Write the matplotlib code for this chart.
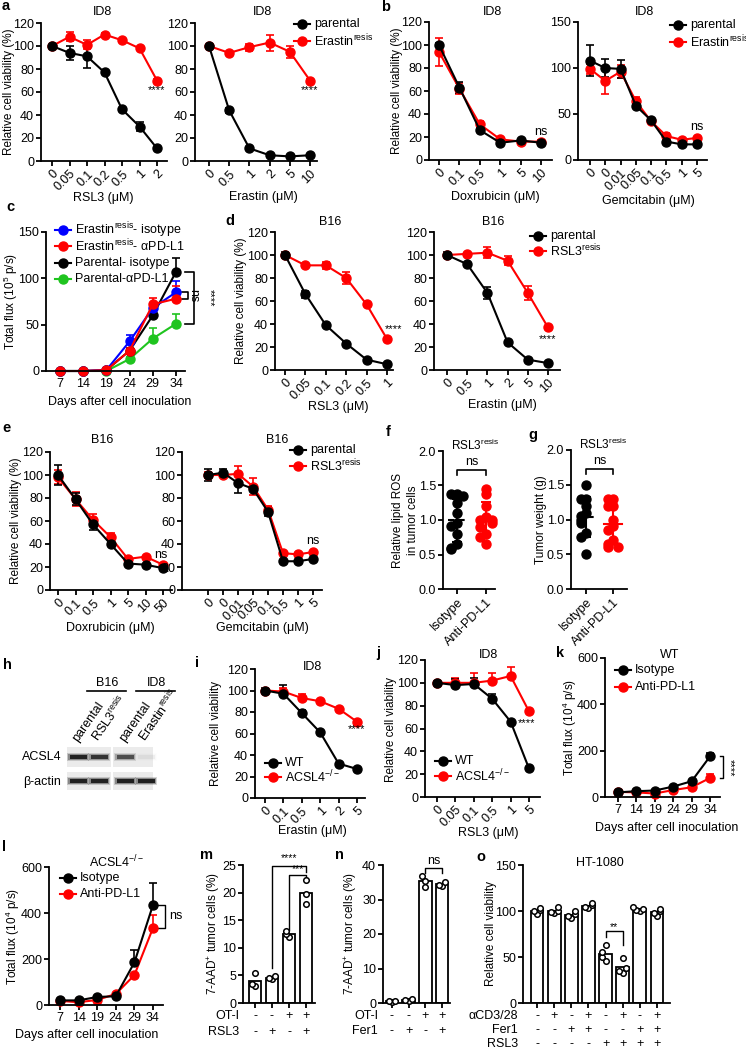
"""
Multi-panel ferroptosis / anti-PD-L1 figure (Prism style).
"""

import numpy as np
import matplotlib
matplotlib.use("Agg")
import matplotlib.pyplot as plt
from matplotlib.lines import Line2D
from matplotlib.patches import Rectangle

plt.rcParams["font.family"] = ["Liberation Sans", "DejaVu Sans"]
plt.rcParams["mathtext.fontset"] = "custom"
plt.rcParams["mathtext.rm"] = "Liberation Sans"
plt.rcParams["mathtext.it"] = "Liberation Sans:italic"
plt.rcParams["mathtext.default"] = "regular"
plt.rcParams["font.size"] = 9

W, H = 746, 1050

BLACK = "#000000"
RED = "#ff0000"
BLUE = "#0000ff"
GREEN = "#1fc41f"

ERA_RES = "Erastin$^{resis}$"
RSL_RES = "RSL3$^{resis}$"
KO = "ACSL4$^{-/-}$"

# ----------------------------------------------------
# Data
# ----------------------------------------------------

a_rsl3_doses = ["0", "0.05", "0.1", "0.2", "0.5", "1", "2"]
a_rsl3_par = [100, 94, 91, 77, 45, 30, 11]
a_rsl3_par_err = [0, 6, 10, 1, 1, 4, 1]
a_rsl3_res = [100, 108, 101, 110, 105, 98, 70]
a_rsl3_res_err = [0, 4, 4, 1, 1, 1, 1]

a_era_doses = ["0", "0.5", "1", "2", "5", "10"]
a_era_par = [100, 44, 11, 5, 4, 5]
a_era_par_err = [0, 2, 1, 1, 1, 1]
a_era_res = [100, 94, 99, 103, 95, 70]
a_era_res_err = [0, 1, 3, 7, 5, 1]

b_dox_doses = ["0", "0.1", "0.5", "1", "5", "10"]
b_dox_par = [100, 63, 26, 15, 17, 15]
b_dox_par_err = [2, 5, 2, 2, 1, 2]
b_dox_res = [94, 62, 31, 18, 16, 16]
b_dox_res_err = [12, 5, 3, 1, 1, 1]

b_gem_doses = ["0", "0", "0.01", "0.05", "0.1", "0.5", "1", "5"]
b_gem_par = [108, 100, 99, 59, 43, 20, 17, 17]
b_gem_par_err = [17, 10, 10, 2, 1, 2, 1, 1]
b_gem_res = [99, 86, 96, 64, 42, 26, 22, 24]
b_gem_res_err = [5, 14, 7, 4, 2, 3, 1, 1]

days = ["7", "14", "19", "24", "29", "34"]
c_res_iso = [0, 0, 1, 32, 68, 85]
c_res_iso_err = [0, 0, 0, 7, 5, 12]
c_res_pdl1 = [0, 0, 1, 22, 72, 78]
c_res_pdl1_err = [0, 0, 0, 3, 7, 14]
c_par_iso = [0, 0, 1, 22, 60, 107]
c_par_iso_err = [0, 0, 0, 3, 3, 15]
c_par_pdl1 = [0, 0, 0, 13, 35, 51]
c_par_pdl1_err = [0, 0, 0, 2, 11, 11]

d_rsl3_doses = ["0", "0.05", "0.1", "0.2", "0.5", "1"]
d_rsl3_par = [100, 66, 39, 23, 9, 5]
d_rsl3_par_err = [3, 3, 1, 1, 1, 1]
d_rsl3_res = [100, 91, 91, 80, 57, 27]
d_rsl3_res_err = [1, 1, 3, 5, 1, 1]

d_era_doses = ["0", "0.5", "1", "2", "5", "10"]
d_era_par = [100, 92, 67, 24, 9, 6]
d_era_par_err = [3, 1, 5, 1, 1, 1]
d_era_res = [100, 101, 102, 95, 67, 37]
d_era_res_err = [1, 1, 5, 4, 6, 1]

e_dox_doses = ["0", "0.1", "0.5", "1", "5", "10", "50"]
e_dox_par = [100, 79, 57, 40, 23, 22, 19]
e_dox_par_err = [9, 5, 5, 2, 2, 1, 2]
e_dox_res = [98, 79, 61, 46, 27, 29, 22]
e_dox_res_err = [6, 6, 5, 4, 1, 1, 1]

e_gem_doses = ["0", "0", "0.01", "0.05", "0.1", "0.5", "1", "5"]
e_gem_par = [100, 102, 93, 88, 68, 25, 25, 27]
e_gem_par_err = [5, 3, 9, 2, 4, 1, 1, 1]
e_gem_res = [100, 100, 101, 90, 70, 32, 31, 33]
e_gem_res_err = [3, 2, 7, 7, 3, 1, 1, 1]

fg_groups = ["Isotype", "Anti-PD-L1"]
f_iso = [1.38, 1.38, 1.35, 1.25, 1.1, 0.95, 0.92, 0.8, 0.65, 0.6, 0.58]
f_pdl1 = [1.45, 1.38, 1.2, 1.05, 1.0, 1.0, 0.95, 0.9, 0.8, 0.75, 0.65]
g_iso = [1.5, 1.3, 1.3, 1.2, 1.1, 1.05, 1.0, 0.95, 0.8, 0.75, 0.5]
g_pdl1 = [1.3, 1.3, 1.2, 1.2, 1.0, 0.9, 0.85, 0.7, 0.65, 0.6, 0.6]

h_lanes = ["parental", RSL_RES, "parental", ERA_RES]
h_acsl4 = [0.95, 0.82, 0.65, 0.05]
h_actin = [0.97, 0.95, 0.97, 0.97]

i_doses = ["0", "0.1", "0.5", "1", "2", "5"]
i_wt = [100, 97, 79, 61, 32, 27]
i_wt_err = [2, 8, 3, 1, 1, 1]
i_ko = [100, 99, 93, 90, 83, 71]
i_ko_err = [1, 3, 4, 1, 1, 1]

j_doses = ["0", "0.05", "0.1", "0.5", "1", "5"]
j_wt = [100, 98, 99, 86, 66, 25]
j_wt_err = [2, 5, 5, 4, 1, 1]
j_ko = [100, 100, 100, 102, 106, 75]
j_ko_err = [1, 4, 9, 7, 8, 1]

k_iso = [20, 25, 28, 45, 68, 175]
k_iso_err = [0, 0, 0, 0, 0, 15]
k_pdl1 = [22, 20, 15, 30, 42, 82]
k_pdl1_err = [0, 0, 0, 0, 0, 18]

l_iso = [20, 20, 35, 38, 185, 435]
l_iso_err = [0, 0, 0, 0, 55, 95]
l_pdl1 = [18, 12, 22, 48, 130, 335]
l_pdl1_err = [0, 0, 0, 0, 0, 55]

m_pts = [[3.0, 3.5, 5.5], [4.3, 4.6, 4.9], [12.0, 12.5, 13.0], [18.0, 19.8, 22.2]]
m_oti = ["-", "-", "+", "+"]
m_rsl3 = ["-", "+", "-", "+"]

n_pts = [[0.3, 0.5, 0.7], [0.6, 0.8, 1.1], [33.5, 35.5, 36.8], [34.0, 34.3, 35.0]]
n_oti = ["-", "-", "+", "+"]
n_fer1 = ["-", "+", "-", "+"]

o_pts = [[97, 100, 101, 103], [98, 99, 100, 104], [92, 95, 97, 100],
         [103, 104, 106, 109], [46, 50, 55, 63], [33, 35, 38, 49],
         [100, 101, 102, 104], [95, 98, 100, 102]]
o_cd3 = ["-", "+", "-", "+", "-", "+", "-", "+"]
o_fer1 = ["-", "-", "+", "+", "-", "-", "+", "+"]
o_rsl3 = ["-", "-", "-", "-", "+", "+", "+", "+"]

# ----------------------------------------------------
# Helpers
# ----------------------------------------------------

fig = plt.figure(figsize=(W / 100, H / 100), dpi=100)

YLS = 8.5


def px_axes(x0, x1, ytop, ybot):
    ax = fig.add_axes([x0 / W, 1 - ybot / H, (x1 - x0) / W, (ybot - ytop) / H])
    ax.spines["top"].set_visible(False)
    ax.spines["right"].set_visible(False)
    ax.spines["left"].set_linewidth(1.3)
    ax.spines["bottom"].set_linewidth(1.3)
    ax.tick_params(width=1.3, length=3.5, labelsize=9, pad=1.5)
    ax.patch.set_alpha(0)
    return ax


def ftext(x, y, s, **kw):
    kw.setdefault("ha", "center")
    kw.setdefault("va", "center")
    fig.text(x / W, 1 - y / H, s, **kw)


def ylab(x, y, s):
    ftext(x, y, s, rotation=90, fontsize=YLS)


def letter(x, y, s):
    ftext(x, y, s, fontsize=10.5, fontweight="bold", ha="left")


def cat_xlim(ax, box, p0, p1, n):
    s = (p1 - p0) / (n - 1)
    ax.set_xlim(-(p0 - box[0]) / s, n - 1 + (box[1] - p1) / s)


def legend_px(xm, ys, labels, colors):
    for y, lab, c in zip(ys, labels, colors):
        yy = 1 - y / H
        fig.add_artist(Line2D([(xm - 8) / W, (xm + 8) / W], [yy, yy], color=c, lw=1.5))
        fig.add_artist(Line2D([xm / W], [yy], color=c, marker="o", ms=6.5))
        ftext(xm + 12, y, lab, ha="left")


def noclip(eb):
    line, caps, bars = eb.lines
    line.set_clip_on(False)
    for a in list(caps) + list(bars):
        a.set_clip_on(False)


def line_panel(box, pts, labels, series, ylim, yticks, rot=True, both=True):
    ax = px_axes(*box)
    n = len(labels)
    x = np.arange(n)
    for mean, err, color in series:
        err = np.asarray(err, dtype=float)
        lo = err if both else np.zeros(n)
        eb = ax.errorbar(x, mean, yerr=[lo, err], color=color, lw=1.5,
                         marker="o", ms=6.5, capsize=3, capthick=1.2,
                         elinewidth=1.2)
        noclip(eb)
    ax.set_ylim(*ylim)
    ax.set_yticks(yticks)
    ax.set_xticks(x)
    if rot:
        ax.set_xticklabels(labels, rotation=45, ha="right",
                           rotation_mode="anchor")
    else:
        ax.set_xticklabels(labels)
    cat_xlim(ax, box, pts[0], pts[1], n)
    return ax


def swarm(vals, step, tol):
    offs, placed = [], []
    order = [0, -1, 1, -2, 2, -3, 3]
    for v in vals:
        k = sum(1 for p in placed if abs(p - v) < tol)
        offs.append(order[min(k, 6)] * step)
        placed.append(v)
    return np.array(offs)


def scatter_panel(box, pts, groups, colors):
    ax = px_axes(*box)
    for i, (vals, c) in enumerate(zip(groups, colors)):
        vals = np.asarray(vals)
        offs = swarm(vals, 0.2, 0.07)
        ax.scatter(i + offs, vals, s=42, color=c, zorder=3, clip_on=False)
        m, sd = vals.mean(), vals.std(ddof=1)
        ax.plot([i - 0.32, i + 0.32], [m, m], color=c, lw=1.5, zorder=4,
                ls=(0, (3, 2)) if c == BLACK else "-")
        eb = ax.errorbar(i, m, yerr=sd, color=c, capsize=3.5, capthick=1.5,
                         elinewidth=1.5, zorder=4)
        noclip(eb)
    ax.set_ylim(0, 2)
    ax.set_yticks([0, 0.5, 1.0, 1.5, 2.0])
    ax.set_yticklabels(["0.0", "0.5", "1.0", "1.5", "2.0"])
    ax.set_xticks([0, 1])
    ax.set_xticklabels(fg_groups, rotation=45, ha="right",
                       rotation_mode="anchor")
    cat_xlim(ax, box, pts[0], pts[1], 2)
    ax.plot([0, 0, 1, 1], [1.65, 1.72, 1.72, 1.65], color=BLACK, lw=1.2,
            clip_on=False)
    ax.text(0.5, 1.76, "ns", ha="center", va="bottom", fontsize=9)
    return ax


def bar_panel(box, pts, groups, ylim, yticks, rows, row_ys, label_x):
    ax = px_axes(*box)
    n = len(groups)
    x = np.arange(n)
    means = [np.mean(g) for g in groups]
    ax.bar(x, means, width=0.75, facecolor="white", edgecolor=BLACK,
           lw=1.3, zorder=2)
    span = ylim[1] - ylim[0]
    for i, g in enumerate(groups):
        offs = swarm(g, 0.2, span * 0.035)
        ax.scatter(i + offs, g, s=16, facecolor="white", edgecolor=BLACK,
                   lw=1.1, zorder=3, clip_on=False)
    ax.set_ylim(*ylim)
    ax.set_yticks(yticks)
    ax.set_xticks(x)
    ax.set_xticklabels([])
    cat_xlim(ax, box, pts[0], pts[1], n)
    hgt = box[3] - box[2]
    for (name, signs), y in zip(rows, row_ys):
        ya = (box[3] - y) / hgt
        for i, s in enumerate(signs):
            ax.text(i, ya, s, transform=ax.get_xaxis_transform(),
                    ha="center", va="center", fontsize=9)
        ftext(label_x, y, name, ha="right")
    return ax


def bracket(ax, x1, x2, top, yl, yr, txt, ty, fs=7.5):
    ax.plot([x1, x1, x2, x2], [yl, top, top, yr], color=BLACK, lw=1.0,
            clip_on=False)
    ax.text((x1 + x2) / 2, ty, txt, ha="center", va="center", fontsize=fs)


def side_bracket(ax, x1, x2, ytop, ybot, txt, tx, ty, lw=1.0, fs=8):
    ax.plot([x1, x2, x2, x1], [ytop, ytop, ybot, ybot], color=BLACK, lw=lw,
            clip_on=False)
    ax.text(tx, ty, txt, rotation=-90, ha="center", va="center", fontsize=fs)


VIAB = "Relative cell viability (%)"
UM = " (\u03bcM)"

# ----------------------------------------------------
# Panel a
# ----------------------------------------------------

letter(2, 6, "a")
box = (41, 167, 23, 161)
ax = line_panel(box, (52, 157), a_rsl3_doses,
                [(a_rsl3_res, a_rsl3_res_err, RED),
                 (a_rsl3_par, a_rsl3_par_err, BLACK)],
                (0, 120), range(0, 121, 20))
ax.text(6, 62, "****", ha="center", va="center", fontsize=8)
ftext(103, 12, "ID8")
ftext(103, 198, "RSL3" + UM)
ylab(9, 92, VIAB)

box = (195, 317, 23, 161)
ax = line_panel(box, (209, 310), a_era_doses,
                [(a_era_res, a_era_res_err, RED),
                 (a_era_par, a_era_par_err, BLACK)],
                (0, 120), range(0, 121, 20))
ax.text(5, 62, "****", ha="center", va="center", fontsize=8)
ftext(263, 12, "ID8")
ftext(263, 197, "Erastin" + UM)
legend_px(302, [24, 41], ["parental", ERA_RES], [BLACK, RED])

# ----------------------------------------------------
# Panel b
# ----------------------------------------------------

letter(381, 7, "b")
box = (429, 552, 22, 160)
ax = line_panel(box, (439, 541), b_dox_doses,
                [(b_dox_res, b_dox_res_err, RED),
                 (b_dox_par, b_dox_par_err, BLACK)],
                (0, 120), range(0, 121, 20))
ax.text(5, 24, "ns", ha="center", va="center", fontsize=9)
ftext(493, 12, "ID8")
ftext(495, 197, "Doxrubicin" + UM)
ylab(397, 91, VIAB)

box = (578, 707, 22, 160)
ax = line_panel(box, (590, 697), b_gem_doses,
                [(b_gem_res, b_gem_res_err, RED),
                 (b_gem_par, b_gem_par_err, BLACK)],
                (0, 150), range(0, 151, 50))
ax.text(7, 36, "ns", ha="center", va="center", fontsize=9)
ftext(645, 12, "ID8")
ftext(648, 201, "Gemcitabin" + UM)
legend_px(678, [25, 42], ["parental", ERA_RES], [BLACK, RED])

# ----------------------------------------------------
# Panel c
# ----------------------------------------------------

letter(6, 207, "c")
box = (46, 185, 232, 371)
ax = line_panel(box, (60, 176), days,
                [(c_par_pdl1, c_par_pdl1_err, GREEN),
                 (c_par_iso, c_par_iso_err, BLACK),
                 (c_res_iso, c_res_iso_err, BLUE),
                 (c_res_pdl1, c_res_pdl1_err, RED)],
                (0, 150), range(0, 151, 50), rot=False, both=False)
side_bracket(ax, 5.39, 5.78, 107, 51, "****", 6.45, 79, lw=1.2)
side_bracket(ax, 5.26, 5.52, 85, 78, "ns", 5.72, 81.5, lw=1.2, fs=9)
ftext(120, 402, "Days after cell inoculation")
ylab(11, 301, "Total flux (10$^{5}$ p/s)")
legend_px(63, [230, 246, 263, 279],
          [ERA_RES + "- isotype", ERA_RES + "- \u03b1PD-L1",
           "Parental- isotype", "Parental-\u03b1PD-L1"],
          [BLUE, RED, BLACK, GREEN])

# ----------------------------------------------------
# Panel d
# ----------------------------------------------------

letter(225, 221, "d")
box = (275, 393, 232, 370)
ax = line_panel(box, (285, 387), d_rsl3_doses,
                [(d_rsl3_res, d_rsl3_res_err, RED),
                 (d_rsl3_par, d_rsl3_par_err, BLACK)],
                (0, 120), range(0, 121, 20))
ax.text(5.3, 36, "****", ha="center", va="center", fontsize=8)
ftext(330, 222, "B16")
ftext(338, 407, "RSL3" + UM)
ylab(241, 301, VIAB)

box = (434, 560, 232, 370)
ax = line_panel(box, (447, 548), d_era_doses,
                [(d_era_res, d_era_res_err, RED),
                 (d_era_par, d_era_par_err, BLACK)],
                (0, 120), range(0, 121, 20))
ax.text(5, 27, "****", ha="center", va="center", fontsize=8)
ftext(493, 222, "B16")
ftext(502, 405, "Erastin" + UM)
legend_px(538, [236, 251], ["parental", RSL_RES], [BLACK, RED])

# ----------------------------------------------------
# Panel e
# ----------------------------------------------------

letter(2, 428, "e")
box = (50, 172, 452, 590)
ax = line_panel(box, (58, 163), e_dox_doses,
                [(e_dox_res, e_dox_res_err, RED),
                 (e_dox_par, e_dox_par_err, BLACK)],
                (0, 120), range(0, 121, 20))
ax.text(5.9, 30, "ns", ha="center", va="center", fontsize=9)
ftext(102, 440, "B16")
ftext(110, 628, "Doxrubicin" + UM)
ylab(16, 521, VIAB)

box = (182, 322, 452, 590)
ax = line_panel(box, (208, 313), e_gem_doses,
                [(e_gem_res, e_gem_res_err, RED),
                 (e_gem_par, e_gem_par_err, BLACK)],
                (0, 120), range(0, 121, 20))
ax.text(7, 43, "ns", ha="center", va="center", fontsize=9)
ftext(277, 440, "B16")
ftext(262, 628, "Gemcitabin" + UM)
legend_px(298, [450, 466], ["parental", RSL_RES], [BLACK, RED])

# ----------------------------------------------------
# Panels f and g
# ----------------------------------------------------

letter(386, 432, "f")
scatter_panel((443, 495, 451, 589), (457, 486), [f_iso, f_pdl1], [BLACK, RED])
ftext(475, 445, RSL_RES, fontsize=8.5)
ylab(398, 520, "Relative lipid ROS")
ylab(413, 520, "in tumor cells")

letter(528, 435, "g")
scatter_panel((571, 627, 450, 589), (586, 613), [g_iso, g_pdl1], [BLACK, RED])
ftext(603, 444, RSL_RES, fontsize=8.5)
ylab(541, 520, "Tumor weight (g)")

# ----------------------------------------------------
# Panel h (western blot)
# ----------------------------------------------------

letter(3, 665, "h")
hx = px_axes(60, 160, 742, 795)
hx.set_axis_off()
hx.set_xlim(60, 160)
hx.set_ylim(795, 742)
lane_x = [78, 99, 125, 146]
for (xa, xb) in [(67, 111), (113, 153)]:
    for (ya, yb) in [(747, 767), (772, 790)]:
        hx.add_patch(Rectangle((xa, ya), xb - xa, yb - ya, facecolor="#ebebeb",
                               edgecolor="none"))
for lx, ia, ib in zip(lane_x, h_acsl4, h_actin):
    for inten, yc in [(ia, 757), (ib, 781)]:
        for grow, alpha in [(2.5, 0.18), (1.2, 0.35), (0, 0.9)]:
            hx.add_patch(Rectangle((lx - 8.5 - grow, yc - 1.8 - grow),
                                   17 + 2 * grow, 3.6 + 2 * grow,
                                   facecolor="#111111", alpha=alpha * inten,
                                   edgecolor="none"))
ftext(42, 757, "ACSL4")
ftext(42, 782, "\u03b2-actin")
ftext(107, 683, "B16")
ftext(156, 683, "ID8")
fig.add_artist(Line2D([87 / W, 126 / W], [1 - 691 / H] * 2, color=BLACK, lw=1.2))
fig.add_artist(Line2D([136 / W, 175 / W], [1 - 691 / H] * 2, color=BLACK, lw=1.2))
for lx, lab in zip(lane_x, h_lanes):
    ftext(lx + 2, 744, lab, rotation=55, ha="left", va="bottom",
          rotation_mode="anchor")

# ----------------------------------------------------
# Panels i and j
# ----------------------------------------------------

letter(195, 663, "i")
box = (255, 365, 669, 798)
ax = line_panel(box, (265, 357), i_doses,
                [(i_ko, i_ko_err, RED), (i_wt, i_wt_err, BLACK)],
                (0, 120), range(0, 121, 20), both=False)
ax.text(5, 64, "****", ha="center", va="center", fontsize=8)
ftext(312, 667, "ID8")
ftext(312, 831, "Erastin" + UM)
ylab(216, 733, "Relative cell viability")
legend_px(273, [763, 777], ["WT", KO], [BLACK, RED])

letter(376, 653, "j")
box = (425, 540, 660, 797)
ax = line_panel(box, (437, 529), j_doses,
                [(j_ko, j_ko_err, RED), (j_wt, j_wt_err, BLACK)],
                (0, 120), range(0, 121, 20), both=False)
ax.text(4.85, 65, "****", ha="center", va="center", fontsize=8)
ftext(488, 655, "ID8")
ftext(488, 833, "RSL3" + UM)
ylab(391, 730, "Relative cell viability")
legend_px(443, [761, 776], ["WT", KO], [BLACK, RED])

# ----------------------------------------------------
# Panels k and l
# ----------------------------------------------------

letter(556, 653, "k")
box = (605, 720, 658, 797)
ax = line_panel(box, (618, 710), days,
                [(k_pdl1, k_pdl1_err, RED), (k_iso, k_iso_err, BLACK)],
                (0, 600), range(0, 601, 200), rot=False, both=False)
side_bracket(ax, 5.54, 5.72, 175, 82, "****", 6.05, 128)
ftext(670, 655, "WT")
ftext(667, 828, "Days after cell inoculation")
ylab(570, 727, "Total flux (10$^{4}$ p/s)")
legend_px(623, [670, 687], ["Isotype", "Anti-PD-L1"], [BLACK, RED])

letter(2, 847, "l")
box = (49, 163, 867, 1005)
ax = line_panel(box, (60, 153), days,
                [(l_pdl1, l_pdl1_err, RED), (l_iso, l_iso_err, BLACK)],
                (0, 600), range(0, 601, 200), rot=False, both=False)
ax.plot([5.27, 5.65, 5.65, 5.27], [435, 435, 335, 335], color=BLACK, lw=1.0,
        clip_on=False)
ax.text(5.85, 385, "ns", ha="left", va="center", fontsize=9)
ftext(117, 862, "ACSL4$^{-/-}$")
ftext(87, 1035, "Days after cell inoculation")
ylab(13, 936, "Total flux (10$^{4}$ p/s)")
legend_px(68, [878, 894], ["Isotype", "Anti-PD-L1"], [BLACK, RED])

# ----------------------------------------------------
# Panels m, n, o
# ----------------------------------------------------

letter(200, 855, "m")
box = (243, 315, 865, 1003)
ax = bar_panel(box, (255, 306), m_pts, (0, 25), range(0, 26, 5),
               [("OT-I", m_oti), ("RSL3", m_rsl3)], [1016, 1032], 239)
bracket(ax, 1, 3, 24.8, 6.3, 23.7, "****", 26.2)
bracket(ax, 2, 3, 23.2, 13.2, 22.1, "***", 24.3)
ylab(214, 934, "7-AAD$^{+}$ tumor cells (%)")

letter(335, 855, "n")
box = (383, 450, 865, 1003)
ax = bar_panel(box, (392, 442), n_pts, (0, 40), range(0, 41, 10),
               [("OT-I", n_oti), ("Fer1", n_fer1)], [1016, 1031], 378)
bracket(ax, 2, 3, 39.1, 37.7, 37.7, "ns", 41.2, fs=9)
ylab(351, 934, "7-AAD$^{+}$ tumor cells (%)")

letter(476, 857, "o")
box = (523, 670, 865, 1003)
ax = bar_panel(box, (537, 657), o_pts, (0, 150), range(0, 151, 50),
               [("\u03b1CD3/28", o_cd3), ("Fer1", o_fer1), ("RSL3", o_rsl3)],
               [1016, 1030, 1044], 518)
bracket(ax, 4, 5, 78, 72, 63, "**", 82)
ftext(600, 863, "HT-1080")
ylab(491, 934, "Relative cell viability")

fig.savefig("out.png", dpi=100)
plt.close(fig)
